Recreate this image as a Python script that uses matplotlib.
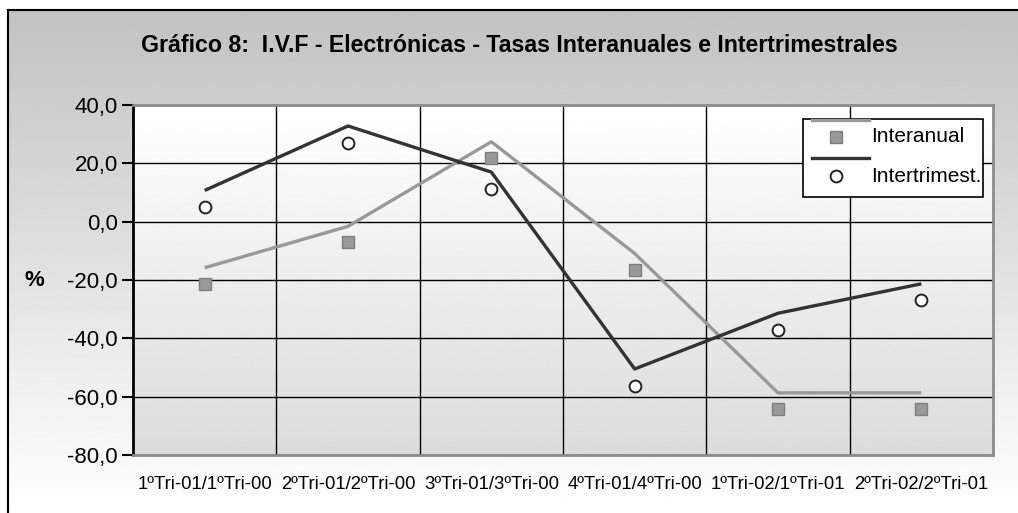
import numpy as np
import matplotlib

matplotlib.use("Agg")
import matplotlib.pyplot as plt
from matplotlib.lines import Line2D
from matplotlib.patches import Rectangle

plt.rcParams["font.family"] = ["Liberation Sans", "DejaVu Sans"]

# --- data ---
categories = [
    "1ºTri-01/1ºTri-00",
    "2ºTri-01/2ºTri-00",
    "3ºTri-01/3ºTri-00",
    "4ºTri-01/4ºTri-00",
    "1ºTri-02/1ºTri-01",
    "2ºTri-02/2ºTri-01",
]
interanual_pts = [-21.5, -7.1, 21.7, -16.4, -64.2, -64.2]
interanual_line = [-15.8, -1.6, 27.4, -10.9, -58.7, -58.7]
intertrim_pts = [5.2, 27.0, 11.3, -56.2, -37.1, -26.9]
intertrim_line = [10.7, 32.8, 17.0, -50.5, -31.4, -21.3]
y_ticks = [40, 20, 0, -20, -40, -60, -80]

W, H = 1018, 513


def fx(px):
    return px / W


def fy(py):
    return 1 - py / H


fig = plt.figure(figsize=(W / 100, H / 100), dpi=100, facecolor="white")

# outer chart area: grey at the top fading to white, framed left/top
bg = fig.add_axes([fx(8), 0, 1 - fx(8), fy(10)])
grad = np.linspace(0.76, 1.0, 256).reshape(-1, 1)
bg.imshow(grad, cmap="gray", vmin=0, vmax=1, aspect="auto", extent=[0, 1, 1, 0])
bg.set_xlim(0, 1)
bg.set_ylim(1, 0)
bg.set_xticks([])
bg.set_yticks([])
for side in ("right", "bottom"):
    bg.spines[side].set_visible(False)
for side in ("left", "top"):
    bg.spines[side].set_linewidth(1.5)
    bg.spines[side].set_color("black")

ax = fig.add_axes([fx(133), fy(455), fx(993 - 133), (455 - 105) / H])
ax.set_facecolor("none")
pgrad = np.linspace(1.0, 0.86, 256).reshape(-1, 1)
ax.imshow(pgrad, cmap="gray", vmin=0, vmax=1, aspect="auto",
          extent=[0, 1, 0, 1], transform=ax.transAxes, origin="upper", zorder=0)

x = np.arange(len(categories))
ax.set_xlim(-0.5, len(categories) - 0.5)
ax.set_ylim(min(y_ticks), max(y_ticks))

ax.set_yticks(y_ticks)
ax.set_yticklabels([f"{v:.1f}".replace(".", ",") for v in y_ticks], fontsize=16)
ax.set_xticks(x)
ax.set_xticklabels(categories, fontsize=13.3)
ax.set_xticks(x[:-1] + 0.5, minor=True)
ax.tick_params(axis="x", which="both", length=0, pad=15)
ax.tick_params(axis="y", length=8, width=1.5, direction="out", pad=3)
ax.grid(True, axis="y", color="black", lw=1.0, zorder=1)
ax.grid(True, axis="x", which="minor", color="black", lw=1.0, zorder=1)

for side in ("top", "right", "bottom"):
    ax.spines[side].set_color("#8c8c8c")
    ax.spines[side].set_linewidth(2)
ax.spines["left"].set_color("black")
ax.spines["left"].set_linewidth(2)

ax.plot(x, interanual_line, color="#999999", lw=2.4, solid_capstyle="butt", zorder=3)
ax.plot(x, intertrim_line, color="#333333", lw=2.4, solid_capstyle="butt", zorder=3)
ax.plot(x, interanual_pts, ls="none", marker="s", ms=8, mfc="#999999",
        mec="#7f7f7f", mew=1, zorder=4)
ax.plot(x, intertrim_pts, ls="none", marker="o", ms=8.5, mfc="white",
        mec="#222222", mew=1.4, zorder=4)

fig.text(fx(519), fy(45), "Gráfico 8:  I.V.F - Electrónicas - Tasas Interanuales e Intertrimestrales",
         ha="center", va="center", fontsize=16.7, fontweight="bold")
fig.text(fx(34), fy(280), "%", ha="center", va="center", fontsize=16, fontweight="bold")

# legend drawn as in the original (unnamed line entries between the marker entries)
fig.add_artist(Rectangle((fx(803), fy(197)), fx(983 - 803), (197 - 119) / H,
                         transform=fig.transFigure, facecolor="white",
                         edgecolor="black", lw=1.2, zorder=5))
fig.add_artist(Line2D([fx(812), fx(869)], [fy(120), fy(120)], color="#999999",
                      lw=2.4, transform=fig.transFigure, zorder=6))
fig.add_artist(Line2D([fx(836)], [fy(137)], marker="s", ms=8, mfc="#999999",
                      mec="#7f7f7f", ls="none", transform=fig.transFigure, zorder=6))
fig.add_artist(Line2D([fx(812), fx(869)], [fy(158), fy(158)], color="#333333",
                      lw=2.4, transform=fig.transFigure, zorder=6))
fig.add_artist(Line2D([fx(836)], [fy(176)], marker="o", ms=8.5, mfc="white",
                      mec="#222222", mew=1.4, ls="none", transform=fig.transFigure, zorder=6))
fig.text(fx(871), fy(137), "Interanual", ha="left", va="center", fontsize=15, zorder=7)
fig.text(fx(871), fy(176), "Intertrimest.", ha="left", va="center", fontsize=15, zorder=7)

fig.savefig("out.png", dpi=100)
